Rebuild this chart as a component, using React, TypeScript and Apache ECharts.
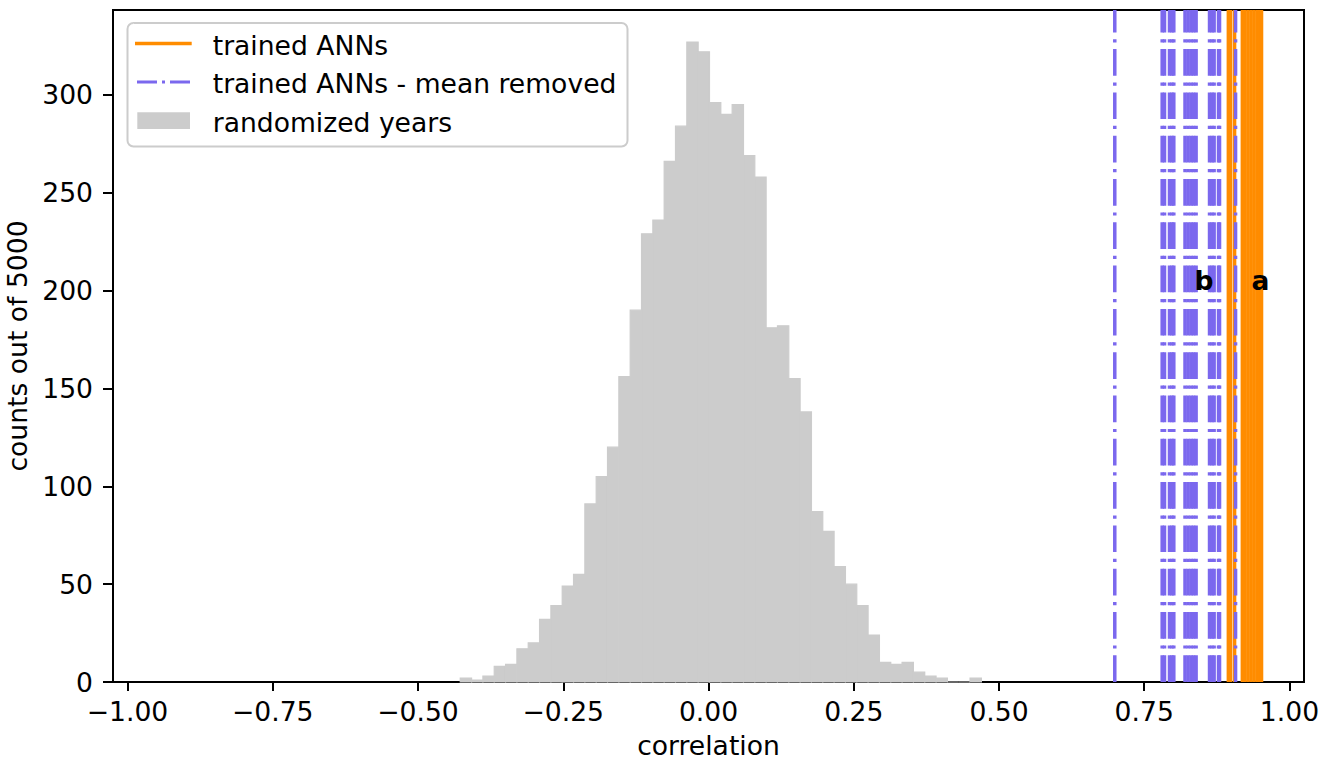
import React, { useEffect, useRef } from "react";
import * as echarts from "echarts";

// Histogram of correlations for randomized years (counts per bin)
const histCounts = [
  2, 1, 3, 8, 9, 17, 20, 32, 39, 49, 55, 91, 105, 120, 156, 190, 229, 236, 266, 284,
  327, 322, 296, 290, 295, 269, 258, 181, 182, 155, 138, 87, 77, 59, 50, 39, 24, 10,
  9, 10, 5, 3, 2, 0, 0, 2,
];
const binStart = -0.4273;
const binWidth = 0.0195;

// Correlations of the trained ANNs (vertical lines)
const trainedANNs = [0.8948, 0.8986, 0.9055, 0.9189, 0.9235, 0.9287, 0.9339, 0.939, 0.9442, 0.9485, 0.9519];
const meanRemoved = [
  0.6993, 0.7809, 0.7849, 0.7935, 0.7978, 0.8009, 0.8202, 0.8254, 0.8305, 0.8348, 0.8393,
  0.8624, 0.8667, 0.8703, 0.8779, 0.8796, 0.9072,
];

const xTicks = [-1, -0.75, -0.5, -0.25, 0, 0.25, 0.5, 0.75, 1];
const yTicks = [0, 50, 100, 150, 200, 250, 300];

const annotationLabels = ["b", "a"];
const annotationX = [0.8365, 0.9345];
const annotationY = [205, 205];

const legendLabels = ["trained ANNs", "trained ANNs - mean removed", "randomized years"];

const ORANGE = "#ff8c00";
const PURPLE = "#7b68ee";
const GRAY = "#cccccc";
const FONT = '"DejaVu Sans", "Liberation Sans", sans-serif';
const FS = 26.6;

export default function App() {
  const ref = useRef<HTMLDivElement>(null);

  useEffect(() => {
    if (!ref.current) return;
    const chart = echarts.init(ref.current, null, { renderer: "svg" });

    const histData = histCounts.map((c, i) => [binStart + i * binWidth, binStart + (i + 1) * binWidth, c]);

    const vline = (color: string, width: number, dash: number[] | null) =>
      function (params: any, api: any) {
        const cs = params.coordSys;
        const x = api.coord([api.value(0), 0])[0];
        const style: any = { stroke: color, lineWidth: width, fill: null };
        if (dash) style.lineDash = dash;
        return {
          type: "line",
          shape: { x1: x, y1: cs.y + cs.height, x2: x, y2: cs.y },
          style,
        };
      };

    const option: any = {
      animation: false,
      backgroundColor: "#ffffff",
      grid: {
        left: 113,
        top: 10,
        right: 17,
        bottom: 78,
        containLabel: false,
        outerBoundsMode: "none",
        show: true,
        borderColor: "#000",
        borderWidth: 2,
        backgroundColor: "transparent",
      },
      xAxis: {
        type: "value",
        min: -1.025,
        max: 1.025,
        name: "correlation",
        nameLocation: "middle",
        nameGap: 50,
        nameTextStyle: { fontSize: FS, fontFamily: FONT, color: "#000" },
        axisLine: { show: true, onZero: false, lineStyle: { color: "#000", width: 2 } },
        axisTick: { show: true, length: 9, lineStyle: { color: "#000", width: 2 }, customValues: xTicks },
        axisLabel: {
          customValues: xTicks,
          fontSize: FS,
          fontFamily: FONT,
          color: "#000",
          margin: 16,
          formatter: (v: number) => v.toFixed(2).replace("-", "\u2212"),
        },
        splitLine: { show: false },
      },
      yAxis: {
        type: "value",
        min: 0,
        max: 343.35,
        name: "counts out of 5000",
        nameLocation: "middle",
        nameGap: 64,
        nameRotate: 90,
        nameTextStyle: { fontSize: FS, fontFamily: FONT, color: "#000" },
        axisLine: { show: true, onZero: false, lineStyle: { color: "#000", width: 2 } },
        axisTick: { show: true, length: 10, lineStyle: { color: "#000", width: 2 }, customValues: yTicks },
        axisLabel: {
          customValues: yTicks,
          fontSize: FS,
          fontFamily: FONT,
          color: "#000",
          margin: 20,
          formatter: (v: number) => String(v),
        },
        splitLine: { show: false },
      },
      series: [
        {
          type: "custom",
          name: "randomized years",
          data: histData,
          encode: { x: [0, 1], y: 2 },
          renderItem: (params: any, api: any) => {
            const p0 = api.coord([api.value(0), 0]);
            const p1 = api.coord([api.value(1), api.value(2)]);
            return {
              type: "rect",
              shape: { x: p0[0], y: p1[1], width: p1[0] - p0[0], height: p0[1] - p1[1] },
              style: { fill: GRAY, stroke: GRAY, lineWidth: 1.2 },
            };
          },
        },
        {
          type: "custom",
          name: "trained ANNs",
          data: trainedANNs.map((v) => [v, 0]),
          encode: { x: 0, y: 1 },
          renderItem: vline(ORANGE, 3.5, null),
        },
        {
          type: "custom",
          name: "trained ANNs - mean removed",
          data: meanRemoved.map((v) => [v, 0]),
          encode: { x: 0, y: 1 },
          renderItem: vline(PURPLE, 3.5, [26.7, 6.7, 3.2, 6.7]),
        },
        {
          type: "custom",
          name: "labels",
          data: annotationX.map((x, i) => [x, annotationY[i]]),
          encode: { x: 0, y: 1 },
          renderItem: (params: any, api: any) => {
            const p = api.coord([api.value(0), api.value(1)]);
            return {
              type: "text",
              x: p[0],
              y: p[1],
              style: {
                text: annotationLabels[params.dataIndex],
                font: `bold ${FS}px ${FONT}`,
                fill: "#000",
                textAlign: "left",
                textVerticalAlign: "middle",
              },
            };
          },
        },
      ],
      graphic: [
        {
          type: "rect",
          z: 100,
          shape: { x: 127.5, y: 23, width: 500, height: 123.5, r: 6 },
          style: { fill: "rgba(255,255,255,0.8)", stroke: GRAY, lineWidth: 2 },
        },
        {
          type: "line",
          z: 101,
          shape: { x1: 135, y1: 43.5, x2: 191.7, y2: 43.5 },
          style: { stroke: ORANGE, lineWidth: 3.5 },
        },
        {
          type: "line",
          z: 101,
          shape: { x1: 137, y1: 82, x2: 190, y2: 82 },
          style: { stroke: PURPLE, lineWidth: 3, lineDash: [20, 5, 3, 5] },
        },
        {
          type: "rect",
          z: 101,
          shape: { x: 137.3, y: 112.3, width: 52.7, height: 16.7 },
          style: { fill: GRAY },
        },
        ...legendLabels.map((t, i) => ({
          type: "text",
          z: 101,
          x: 212.7,
          y: [45, 83.5, 122][i],
          style: {
            text: t,
            font: `${FS}px ${FONT}`,
            fill: "#000",
            textAlign: "left",
            textVerticalAlign: "middle",
          },
        })),
      ],
    };

    chart.setOption(option);
    return () => chart.dispose();
  }, []);

  return (
    <div
      ref={ref}
      style={{ position: "fixed", left: 0, top: 0, width: 1321, height: 760, background: "#fff" }}
    />
  );
}
